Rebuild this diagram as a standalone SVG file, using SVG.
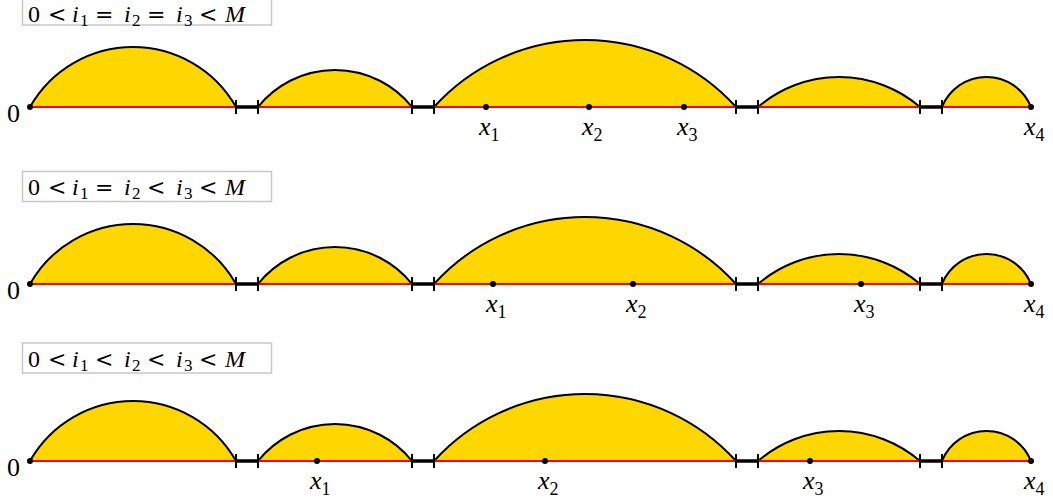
<svg xmlns="http://www.w3.org/2000/svg" width="1053" height="501" viewBox="0 0 1053 501">
<style>
.arc{fill:#FFD700;stroke:#000;stroke-width:2;}
.axis{stroke:#FF0000;stroke-width:2;fill:none;}
.gap{stroke:#000;stroke-width:3.5;fill:none;}
.tick{stroke:#000;stroke-width:2;fill:none;}
.dot{fill:#000;}
.box{fill:#fff;stroke:#c8c8c8;stroke-width:1.5;}
text{font-family:'Liberation Serif','Times New Roman','DejaVu Serif',serif;fill:#000;}
.it{font-style:italic;}
.bt{font-size:24px;}
.rel{font-size:22px;font-family:'DejaVu Serif',serif;}
.sub{font-size:17px;}
.lab{font-size:26px;}
.lsub{font-size:18px;}
</style>
<defs>
<g id="gapbar">
<line class="gap" x1="0" y1="0" x2="22" y2="0"/>
<line class="tick" x1="0" y1="-7" x2="0" y2="7"/>
<line class="tick" x1="22" y1="-7" x2="22" y2="7"/>
</g>
</defs>

<!-- Row 1 -->
<g id="row1">
<g id="r1-arcs">
<path class="arc" d="M30,107 A118.4,118.4 0 0 1 236,107"/>
<path class="arc" d="M258,107 A98.6,98.6 0 0 1 412,107"/>
<path class="arc" d="M434,107 A203.7,203.7 0 0 1 736,107"/>
<path class="arc" d="M758,107 A124.35,124.35 0 0 1 920,107"/>
<path class="arc" d="M942,107 A48,48 0 0 1 1031,107"/>
</g>
<g id="r1-connectors">
<line class="axis" x1="30" y1="107" x2="1031" y2="107"/>
<use href="#gapbar" x="236" y="107"/>
<use href="#gapbar" x="412" y="107"/>
<use href="#gapbar" x="736" y="107"/>
<use href="#gapbar" x="920" y="107"/>
</g>
<g id="r1-dots">
<circle class="dot" cx="30" cy="107" r="3"/>
<circle class="dot" cx="486" cy="107" r="3"/>
<circle class="dot" cx="589" cy="107" r="3"/>
<circle class="dot" cx="684" cy="107" r="3"/>
<circle class="dot" cx="1031" cy="107" r="3"/>
</g>
<g id="r1-labels">
<text class="lab" x="7" y="122">0</text>
<text x="479" y="135"><tspan class="lab it">x</tspan><tspan class="lsub" dy="6">1</tspan></text>
<text x="582" y="135"><tspan class="lab it">x</tspan><tspan class="lsub" dy="6">2</tspan></text>
<text x="677" y="135"><tspan class="lab it">x</tspan><tspan class="lsub" dy="6">3</tspan></text>
<text x="1024" y="135"><tspan class="lab it">x</tspan><tspan class="lsub" dy="6">4</tspan></text>
</g>
<g id="r1-title">
<rect class="box" x="22.5" y="-5" width="249" height="30"/>
<text class="bt" y="21.5"><tspan x="28">0</tspan><tspan class="rel" x="48">&lt;</tspan><tspan class="it" x="72">i</tspan><tspan class="sub" x="80" dy="4">1</tspan><tspan class="rel" x="95" dy="-4">=</tspan><tspan class="it" x="124">i</tspan><tspan class="sub" x="132" dy="4">2</tspan><tspan class="rel" x="147" dy="-4">=</tspan><tspan class="it" x="176">i</tspan><tspan class="sub" x="184" dy="4">3</tspan><tspan class="rel" x="199" dy="-4">&lt;</tspan><tspan class="it" x="225">M</tspan></text>
</g>
</g>

<!-- Row 2 -->
<g id="row2">
<g id="r2-arcs">
<path class="arc" d="M30,284 A118.4,118.4 0 0 1 236,284"/>
<path class="arc" d="M258,284 A98.6,98.6 0 0 1 412,284"/>
<path class="arc" d="M434,284 A203.7,203.7 0 0 1 736,284"/>
<path class="arc" d="M758,284 A124.35,124.35 0 0 1 920,284"/>
<path class="arc" d="M942,284 A48,48 0 0 1 1031,284"/>
</g>
<g id="r2-connectors">
<line class="axis" x1="30" y1="284" x2="1031" y2="284"/>
<use href="#gapbar" x="236" y="284"/>
<use href="#gapbar" x="412" y="284"/>
<use href="#gapbar" x="736" y="284"/>
<use href="#gapbar" x="920" y="284"/>
</g>
<g id="r2-dots">
<circle class="dot" cx="30" cy="284" r="3"/>
<circle class="dot" cx="493" cy="284" r="3"/>
<circle class="dot" cx="633" cy="284" r="3"/>
<circle class="dot" cx="861" cy="284" r="3"/>
<circle class="dot" cx="1031" cy="284" r="3"/>
</g>
<g id="r2-labels">
<text class="lab" x="7" y="299">0</text>
<text x="486" y="312"><tspan class="lab it">x</tspan><tspan class="lsub" dy="6">1</tspan></text>
<text x="626" y="312"><tspan class="lab it">x</tspan><tspan class="lsub" dy="6">2</tspan></text>
<text x="854" y="312"><tspan class="lab it">x</tspan><tspan class="lsub" dy="6">3</tspan></text>
<text x="1024" y="312"><tspan class="lab it">x</tspan><tspan class="lsub" dy="6">4</tspan></text>
</g>
<g id="r2-title">
<rect class="box" x="22.5" y="171.5" width="249" height="30"/>
<text class="bt" y="195"><tspan x="28">0</tspan><tspan class="rel" x="48">&lt;</tspan><tspan class="it" x="72">i</tspan><tspan class="sub" x="80" dy="4">1</tspan><tspan class="rel" x="95" dy="-4">=</tspan><tspan class="it" x="124">i</tspan><tspan class="sub" x="132" dy="4">2</tspan><tspan class="rel" x="147" dy="-4">&lt;</tspan><tspan class="it" x="176">i</tspan><tspan class="sub" x="184" dy="4">3</tspan><tspan class="rel" x="199" dy="-4">&lt;</tspan><tspan class="it" x="225">M</tspan></text>
</g>
</g>

<!-- Row 3 -->
<g id="row3">
<g id="r3-arcs">
<path class="arc" d="M30,461 A118.4,118.4 0 0 1 236,461"/>
<path class="arc" d="M258,461 A98.6,98.6 0 0 1 412,461"/>
<path class="arc" d="M434,461 A203.7,203.7 0 0 1 736,461"/>
<path class="arc" d="M758,461 A124.35,124.35 0 0 1 920,461"/>
<path class="arc" d="M942,461 A48,48 0 0 1 1031,461"/>
</g>
<g id="r3-connectors">
<line class="axis" x1="30" y1="461" x2="1031" y2="461"/>
<use href="#gapbar" x="236" y="461"/>
<use href="#gapbar" x="412" y="461"/>
<use href="#gapbar" x="736" y="461"/>
<use href="#gapbar" x="920" y="461"/>
</g>
<g id="r3-dots">
<circle class="dot" cx="30" cy="461" r="3"/>
<circle class="dot" cx="317" cy="461" r="3"/>
<circle class="dot" cx="545" cy="461" r="3"/>
<circle class="dot" cx="810" cy="461" r="3"/>
<circle class="dot" cx="1031" cy="461" r="3"/>
</g>
<g id="r3-labels">
<text class="lab" x="7" y="476">0</text>
<text x="310" y="489"><tspan class="lab it">x</tspan><tspan class="lsub" dy="6">1</tspan></text>
<text x="538" y="489"><tspan class="lab it">x</tspan><tspan class="lsub" dy="6">2</tspan></text>
<text x="803" y="489"><tspan class="lab it">x</tspan><tspan class="lsub" dy="6">3</tspan></text>
<text x="1024" y="489"><tspan class="lab it">x</tspan><tspan class="lsub" dy="6">4</tspan></text>
</g>
<g id="r3-title">
<rect class="box" x="22.5" y="343" width="249" height="30"/>
<text class="bt" y="366.5"><tspan x="28">0</tspan><tspan class="rel" x="48">&lt;</tspan><tspan class="it" x="72">i</tspan><tspan class="sub" x="80" dy="4">1</tspan><tspan class="rel" x="95" dy="-4">&lt;</tspan><tspan class="it" x="124">i</tspan><tspan class="sub" x="132" dy="4">2</tspan><tspan class="rel" x="147" dy="-4">&lt;</tspan><tspan class="it" x="176">i</tspan><tspan class="sub" x="184" dy="4">3</tspan><tspan class="rel" x="199" dy="-4">&lt;</tspan><tspan class="it" x="225">M</tspan></text>
</g>
</g>
</svg>
